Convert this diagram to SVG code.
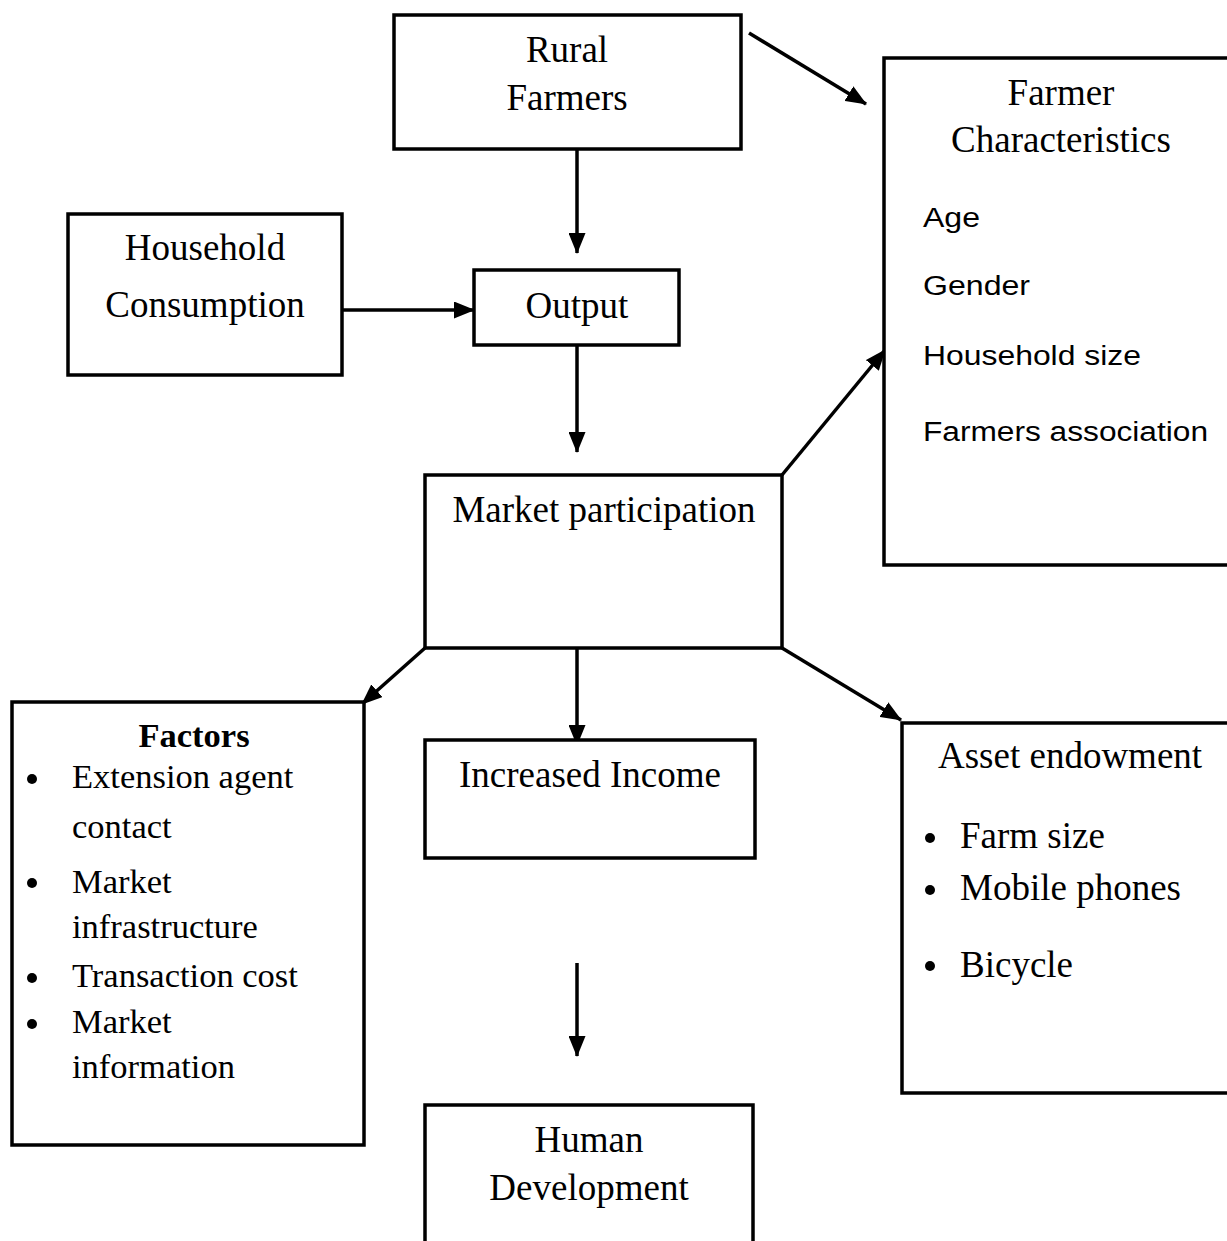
<svg xmlns="http://www.w3.org/2000/svg" width="1227" height="1241" viewBox="0 0 1227 1241">
<style>
.box{fill:#fff;stroke:#000;stroke-width:3.5}
.t{font-family:"Liberation Serif","Times New Roman",serif;font-size:37px;fill:#000}
.f{font-size:34.5px}
.c{text-anchor:middle}
.b{font-weight:bold}
.a{font-family:"Liberation Sans",Arial,sans-serif;font-size:27px;fill:#000}
.ln{stroke:#000;stroke-width:3.5;fill:none;marker-end:url(#ah)}
</style>
<defs>
<marker id="ah" markerUnits="userSpaceOnUse" markerWidth="21" markerHeight="17" refX="20" refY="8.5" orient="auto">
<path d="M0,0 L21,8.5 L0,17 z" fill="#000"/>
</marker>
</defs>
<rect width="1227" height="1241" fill="#fff"/>
<g id="connectors">
<line class="ln" x1="577" y1="150" x2="577" y2="253"/>
<line class="ln" x1="342" y1="310" x2="474" y2="310"/>
<line class="ln" x1="577" y1="345" x2="577" y2="452"/>
<line class="ln" x1="749" y1="33" x2="866" y2="104"/>
<line class="ln" x1="782" y1="475" x2="885" y2="350"/>
<line class="ln" x1="425" y1="648" x2="362" y2="704"/>
<line class="ln" x1="577" y1="648" x2="577" y2="745"/>
<line class="ln" x1="577" y1="963" x2="577" y2="1056"/>
<line class="ln" x1="782" y1="648" x2="901" y2="720"/>
</g>
<g id="rural-farmers">
<rect class="box" x="394" y="15" width="347" height="134"/>
<text class="t c" x="567" y="62">Rural</text>
<text class="t c" x="567" y="110">Farmers</text>
</g>
<g id="household-consumption">
<rect class="box" x="68" y="214" width="274" height="161"/>
<text class="t c" x="205" y="260">Household</text>
<text class="t c" x="205" y="317">Consumption</text>
</g>
<g id="output">
<rect class="box" x="474" y="270" width="205" height="75"/>
<text class="t c" x="577" y="318">Output</text>
</g>
<g id="market-participation">
<rect class="box" x="425" y="475" width="357" height="173"/>
<text class="t c" x="604" y="522">Market participation</text>
</g>
<g id="farmer-characteristics">
<rect class="box" x="884" y="58" width="360" height="507"/>
<text class="t c" x="1061" y="105">Farmer</text>
<text class="t c" x="1061" y="152">Characteristics</text>
<text class="a" x="923" y="227" textLength="57" lengthAdjust="spacingAndGlyphs">Age</text>
<text class="a" x="923" y="295" textLength="107" lengthAdjust="spacingAndGlyphs">Gender</text>
<text class="a" x="923" y="365" textLength="218" lengthAdjust="spacingAndGlyphs">Household size</text>
<text class="a" x="923" y="441" textLength="285" lengthAdjust="spacingAndGlyphs">Farmers association</text>
</g>
<g id="factors">
<rect class="box" x="12" y="702" width="352" height="443"/>
<text class="t f c b" x="194" y="747">Factors</text>
<circle cx="32" cy="779" r="5"/>
<circle cx="32" cy="883" r="5"/>
<circle cx="32" cy="978" r="5"/>
<circle cx="32" cy="1024" r="5"/>
<text class="t f" x="72" y="788">Extension agent</text>
<text class="t f" x="72" y="838">contact</text>
<text class="t f" x="72" y="893">Market</text>
<text class="t f" x="72" y="938">infrastructure</text>
<text class="t f" x="72" y="987">Transaction cost</text>
<text class="t f" x="72" y="1033">Market</text>
<text class="t f" x="72" y="1078">information</text>
</g>
<g id="increased-income">
<rect class="box" x="425" y="740" width="330" height="118"/>
<text class="t c" x="590" y="787">Increased Income</text>
</g>
<g id="human-development">
<path class="box" d="M425,1250 L425,1105 L753,1105 L753,1250"/>
<text class="t c" x="589" y="1152">Human</text>
<text class="t c" x="589" y="1200">Development</text>
</g>
<g id="asset-endowment">
<rect class="box" x="902" y="723" width="345" height="370"/>
<text class="t" x="938" y="768">Asset endowment</text>
<circle cx="930" cy="838" r="5"/>
<circle cx="930" cy="890" r="5"/>
<circle cx="930" cy="966" r="5"/>
<text class="t" x="960" y="848">Farm size</text>
<text class="t" x="960" y="900">Mobile phones</text>
<text class="t" x="960" y="977">Bicycle</text>
</g>
</svg>
